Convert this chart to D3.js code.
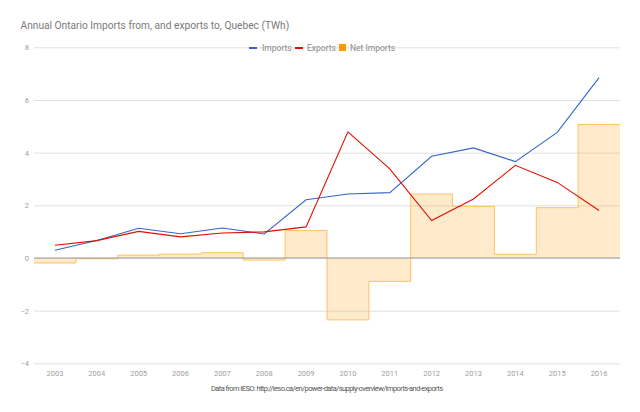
<!DOCTYPE html>
<html>
<head>
<meta charset="utf-8">
<script src="https://cdn.jsdelivr.net/npm/d3@7"></script>
<style>
body { margin: 0; background: #fff; }
text { font-family: Roboto, "Noto Sans", sans-serif; }
</style>
</head>
<body>
<div id="chart"></div>
<script>
// values (TWh)
var years = ["2003","2004","2005","2006","2007","2008","2009","2010","2011","2012","2013","2014","2015","2016"]
var imports_twh = [0.29, 0.66, 1.13, 0.92, 1.14, 0.91, 2.21, 2.43, 2.48, 3.86, 4.18, 3.66, 4.77, 6.85]
var exports_twh = [0.48, 0.66, 1.01, 0.80, 0.95, 0.99, 1.18, 4.79, 3.38, 1.42, 2.24, 3.52, 2.87, 1.80]
var net_imports = [-0.19, -0.03, 0.11, 0.15, 0.20, -0.08, 1.04, -2.35, -0.89, 2.43, 1.96, 0.14, 1.91, 5.07]
var y_ticks = [-4, -2, 0, 2, 4, 6, 8]

var width = 640
var height = 412
var plot_left = 34, plot_right = 620, plot_top = 47.3, plot_bottom = 363.3

var svg = d3.select("#chart")
	.append("svg")
	.attr("width", width)
	.attr("height", height)

var x = d3.scaleBand().domain(years).range([plot_left, plot_right])
var y = d3.scaleLinear().domain([-4, 8]).range([plot_bottom, plot_top])

// title
svg.append("text")
	.attr("x", 20.5)
	.attr("y", 28.5)
	.attr("font-size", 10.2)
	.attr("fill", "#7a7a7a")
	.text("Annual Ontario Imports from, and exports to, Quebec (TWh)")

// gridlines + y labels
var yAxis = svg.append("g")
	.attr("transform", "translate(" + plot_left + ",0)")
	.call(d3.axisLeft(y).tickValues(y_ticks).tickSize(-(plot_right - plot_left)).tickPadding(5).tickFormat(d3.format("d")))
yAxis.select(".domain").remove()
yAxis.selectAll(".tick line").attr("stroke", "#e0e0e0")
yAxis.selectAll(".tick text").attr("fill", "#9e9e9e").attr("font-size", 7.5).attr("font-family", "Roboto")

// x labels
var xAxis = svg.append("g")
	.attr("transform", "translate(0," + plot_bottom + ")")
	.call(d3.axisBottom(x).tickSize(0).tickPadding(7))
xAxis.select(".domain").remove()
xAxis.selectAll(".tick text").attr("fill", "#9e9e9e").attr("font-size", 7.5).attr("font-family", "Roboto")

// stepped area for net imports
var steps = []
net_imports.forEach(function(v, i) {
	steps.push({x: x(years[i]), v: v})
	steps.push({x: x(years[i]) + x.bandwidth(), v: v})
})
svg.append("path")
	.datum(steps)
	.attr("d", d3.area().x(function(d) { return d.x }).y0(y(0)).y1(function(d) { return y(d.v) }))
	.attr("fill", "#ff9900")
	.attr("fill-opacity", 0.2)
svg.append("path")
	.datum(steps)
	.attr("d", d3.line().x(function(d) { return d.x }).y(function(d) { return y(d.v) }))
	.attr("fill", "none")
	.attr("stroke", "#ffb84d")
	.attr("stroke-opacity", 0.85)
	.attr("stroke-width", 1)

// zero baseline
svg.append("line")
	.attr("x1", plot_left).attr("x2", plot_right)
	.attr("y1", y(0)).attr("y2", y(0))
	.attr("stroke", "#9e9e9e")
	.attr("stroke-width", 1)

// lines
var line = d3.line()
	.x(function(d, i) { return x(years[i]) + x.bandwidth() / 2 })
	.y(function(d) { return y(d) })

svg.append("path")
	.datum(imports_twh)
	.attr("d", line)
	.attr("fill", "none")
	.attr("stroke", "#3366cc")
	.attr("stroke-width", 1.1)

svg.append("path")
	.datum(exports_twh)
	.attr("d", line)
	.attr("fill", "none")
	.attr("stroke", "#dd1100")
	.attr("stroke-width", 1.1)

// legend
var legend = svg.append("g").attr("font-size", 8.5)
legend.append("line").attr("x1", 249).attr("x2", 257).attr("y1", 48).attr("y2", 48).attr("stroke", "#3366cc").attr("stroke-width", 2)
legend.append("text").attr("x", 262).attr("y", 51).attr("fill", "#8a8a8a").text("Imports")
legend.append("line").attr("x1", 295).attr("x2", 303).attr("y1", 48).attr("y2", 48).attr("stroke", "#dd1100").attr("stroke-width", 2)
legend.append("text").attr("x", 307).attr("y", 51).attr("fill", "#8a8a8a").text("Exports")
legend.append("rect").attr("x", 339).attr("y", 44).attr("width", 7).attr("height", 7).attr("fill", "#ff9900")
legend.append("text").attr("x", 350).attr("y", 51).attr("fill", "#8a8a8a").text("Net Imports")

// source note
svg.append("text")
	.attr("x", 327)
	.attr("y", 391)
	.attr("text-anchor", "middle")
	.attr("font-size", 7.5)
	.attr("fill", "#555")
	.attr("textLength", 232)
	.text("Data from IESO: http://ieso.ca/en/power-data/supply-overview/imports-and-exports")
</script>
</body>
</html>
